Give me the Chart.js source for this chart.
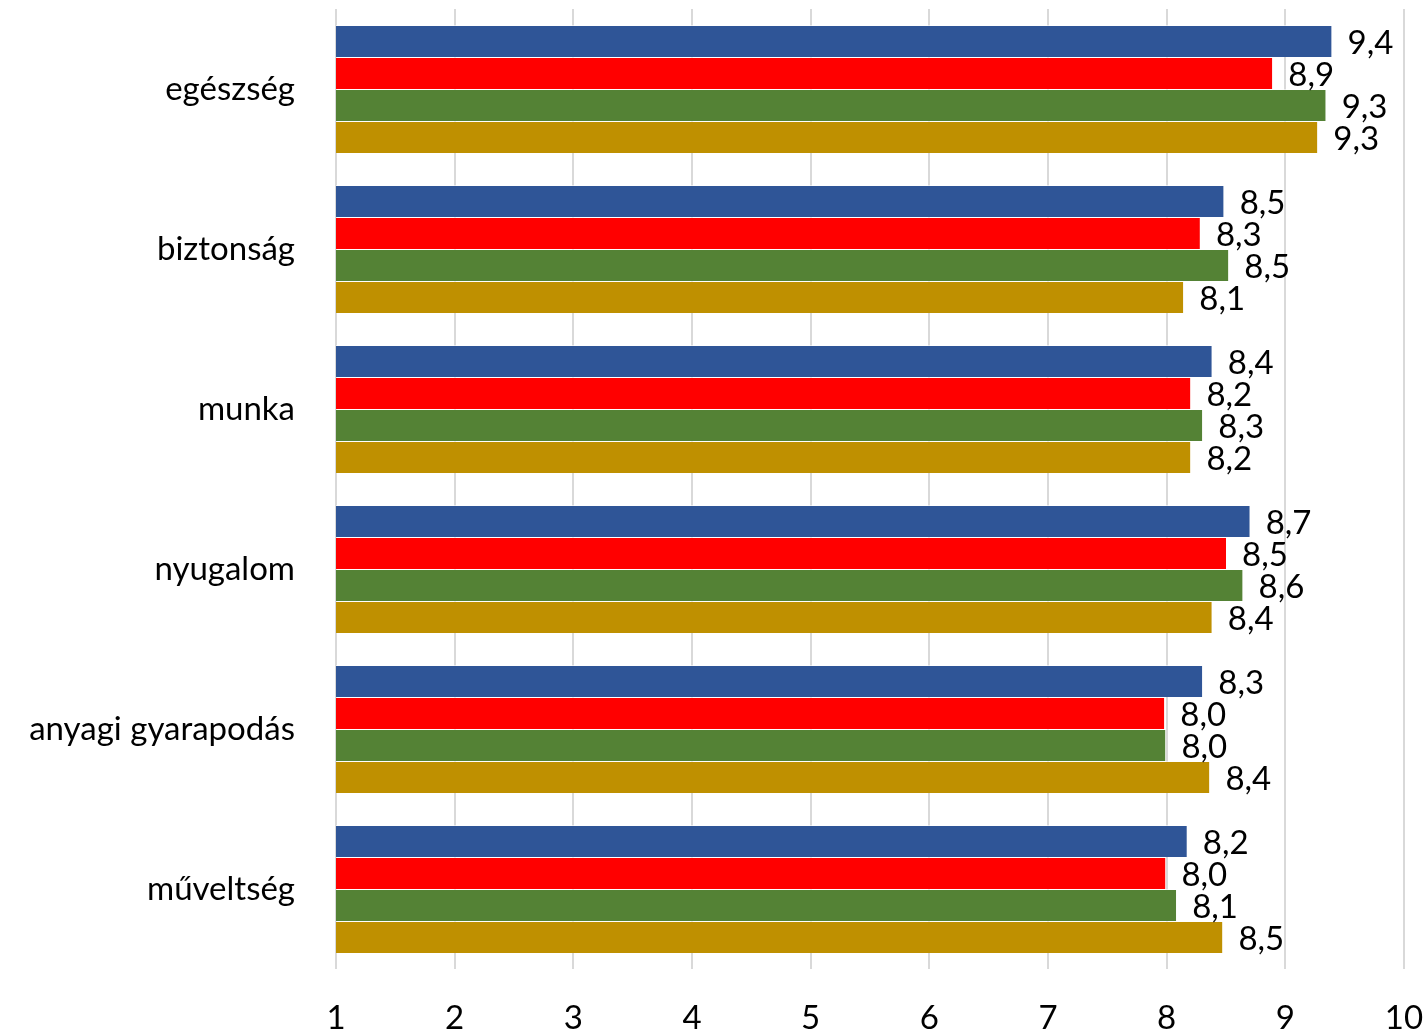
<!DOCTYPE html>
<html>
<head>
<meta charset="utf-8">
<script src="https://cdn.jsdelivr.net/npm/chart.js@4"></script>
<style>
  html, body { margin: 0; padding: 0; background: #fff; }
  #wrap { width: 1425px; height: 1032px; }
</style>
</head>
<body>
<div id="wrap"><canvas id="c"></canvas></div>
<script>
// categories, top to bottom
const categories = ['egészség', 'biztonság', 'munka', 'nyugalom', 'anyagi gyarapodás', 'műveltség'];

// four series (no legend in the original)
const seriesBlue  = [9.39, 8.48, 8.38, 8.70, 8.30, 8.17];
const seriesRed   = [8.89, 8.28, 8.20, 8.50, 7.98, 7.99];
const seriesGreen = [9.34, 8.52, 8.30, 8.64, 7.99, 8.08];
const seriesGold  = [9.27, 8.14, 8.20, 8.38, 8.36, 8.47];

// x axis ticks
const tickValues = [1, 2, 3, 4, 5, 6, 7, 8, 9, 10];

const fontFamily = 'Lato, "Open Sans", sans-serif';
const fontSize = 33;

// draws the value at the end of each bar, with a decimal comma
const valueLabels = {
  id: 'valueLabels',
  afterDatasetsDraw(chart) {
    const ctx = chart.ctx;
    ctx.save();
    ctx.font = fontSize + 'px ' + fontFamily;
    ctx.fillStyle = '#000';
    ctx.textAlign = 'left';
    ctx.textBaseline = 'middle';
    chart.data.datasets.forEach((ds, i) => {
      chart.getDatasetMeta(i).data.forEach((bar, j) => {
        const txt = ds.data[j].toFixed(1).replace('.', ',');
        ctx.fillText(txt, bar.x + 16, bar.y + 2);
      });
    });
    ctx.restore();
  }
};

function makeSet(values, color) {
  return {
    data: values,
    backgroundColor: color,
    borderColor: 'rgba(255,255,255,0.6)',
    borderWidth: { top: 1, bottom: 0, left: 0, right: 0 },
    borderSkipped: false,
    categoryPercentage: 0.8,
    barPercentage: 1.0
  };
}

// no extra space round the axes: the plot box is set by hand
function noPadding(axis) {
  axis.paddingTop = 0;
  axis.paddingBottom = 0;
  axis.paddingLeft = 0;
  axis.paddingRight = 0;
}

new Chart(document.getElementById('c'), {
  type: 'bar',
  data: {
    labels: categories,
    datasets: [
      makeSet(seriesBlue, '#2F5597'),
      makeSet(seriesRed, '#FF0000'),
      makeSet(seriesGreen, '#548235'),
      makeSet(seriesGold, '#BF9000')
    ]
  },
  options: {
    indexAxis: 'y',
    responsive: true,
    maintainAspectRatio: false,
    animation: false,
    layout: { padding: { top: 9, right: 21, left: 0, bottom: 0 } },
    plugins: {
      legend: { display: false },
      tooltip: { enabled: false }
    },
    scales: {
      x: {
        min: 1,
        max: 10,
        afterBuildTicks(axis) {
          axis.ticks = tickValues.map(v => ({ value: v }));
        },
        afterFit(axis) { axis.height = 63; noPadding(axis); },
        grid: { color: '#d9d9d9', lineWidth: 2, drawTicks: false },
        border: { display: false },
        ticks: {
          padding: 30,
          color: '#000',
          font: { family: fontFamily, size: fontSize }
        }
      },
      y: {
        afterFit(axis) { axis.width = 336; noPadding(axis); },
        grid: { display: false },
        border: { display: false },
        ticks: {
          padding: 33,
          color: '#000',
          font: { family: fontFamily, size: fontSize }
        }
      }
    }
  },
  plugins: [valueLabels]
});
</script>
</body>
</html>
